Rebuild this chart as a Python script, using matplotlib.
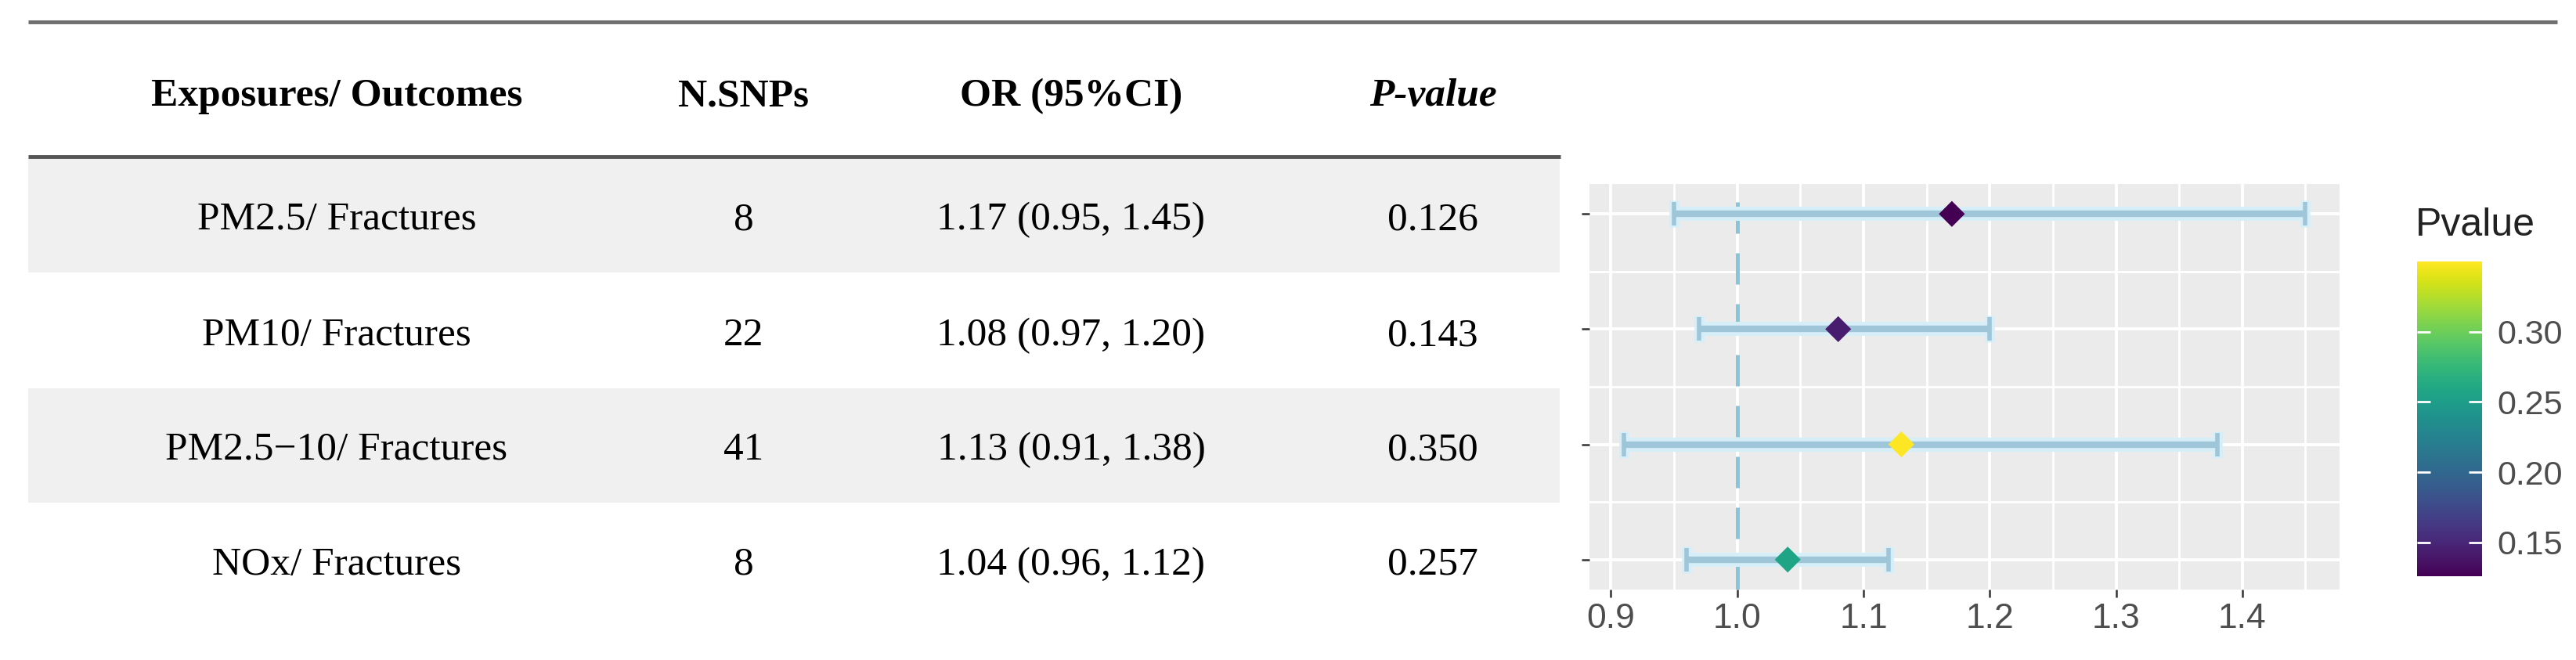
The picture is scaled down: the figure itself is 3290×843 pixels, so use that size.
import matplotlib

matplotlib.use("Agg")
import matplotlib.pyplot as plt
import numpy as np
from matplotlib.cm import ScalarMappable
from matplotlib.colors import Normalize

# table / forest data
exposures = ["PM2.5/ Fractures", "PM10/ Fractures", "PM2.5\u221210/ Fractures", "NOx/ Fractures"]
n_snps = [8, 22, 41, 8]
or_vals = [1.17, 1.08, 1.13, 1.04]
ci_low = [0.95, 0.97, 0.91, 0.96]
ci_high = [1.45, 1.20, 1.38, 1.12]
pvals = [0.126, 0.143, 0.350, 0.257]
headers = ["Exposures/ Outcomes", "N.SNPs", "OR (95%CI)", "P-value"]
x_ticks = [0.9, 1.0, 1.1, 1.2, 1.3, 1.4]
cbar_ticks = [0.15, 0.20, 0.25, 0.30]

W, H, DPI = 3291, 843, 100
SERIF = ["Liberation Serif", "DejaVu Serif"]
SANS = "Liberation Sans"


def px_box(x0, y0, x1, y1):
    return [x0 / W, 1 - y1 / H, (x1 - x0) / W, (y1 - y0) / H]


fig = plt.figure(figsize=(W / DPI, H / DPI), dpi=DPI)

# ---- table part, drawn in pixel coordinates ----
tab = fig.add_axes([0, 0, 1, 1])
tab.set_xlim(0, W)
tab.set_ylim(H, 0)
tab.axis("off")

col_x = [430, 950, 1368, 1830]
row_y = [275, 423, 569, 716]
header_y = 117
base_off = 18  # baseline offset from visual centre

for i, y in enumerate(row_y):
    if i % 2 == 0:
        tab.fill_between([36, 1992], y - 73, y + 73, color="#f0f0f0", lw=0, zorder=0)

tab.hlines(28, 36, 3266, color="#6e6e6e", lw=3.5, zorder=2)
tab.hlines(200, 36, 1993, color="#555555", lw=3.5, zorder=2)

for j, h in enumerate(headers):
    style = "italic" if h == "P-value" else "normal"
    tab.text(col_x[j], header_y + base_off, h, ha="center", va="baseline",
             fontsize=37, fontweight="bold", fontstyle=style, family=SERIF)

for i, y in enumerate(row_y):
    cells = [exposures[i], str(n_snps[i]),
             f"{or_vals[i]:.2f} ({ci_low[i]:.2f}, {ci_high[i]:.2f})", f"{pvals[i]:.3f}"]
    for j, c in enumerate(cells):
        tab.text(col_x[j], y + base_off, c, ha="center", va="baseline",
                 fontsize=37, family=SERIF)

# ---- forest plot ----
ax = fig.add_axes(px_box(2030, 235, 2988, 753))
ax.set_facecolor("#ebebeb")
rows = np.arange(len(or_vals), 0, -1)
or_arr = np.array(or_vals)
lo_arr = np.array(ci_low)
hi_arr = np.array(ci_high)

xlo, xhi = lo_arr.min(), hi_arr.max()
xpad = 0.05 * (xhi - xlo)
ax.set_xlim(xlo - xpad, xhi + xpad)
ylo, yhi = rows.min() - 0.1, rows.max() + 0.1
ypad = 0.05 * (yhi - ylo)
ax.set_ylim(ylo - ypad, yhi + ypad)

ax.set_xticks(x_ticks)
ax.set_xticklabels([f"{t:.1f}" for t in x_ticks])
ax.set_xticks(np.array(x_ticks) + 0.05, minor=True)
ax.set_yticks(rows)
ax.set_yticklabels([""] * len(rows))
ax.set_yticks(rows[:-1] - 0.5, minor=True)
ax.grid(which="major", color="white", lw=2.8)
ax.grid(which="minor", color="white", lw=2.0)
ax.set_axisbelow(True)
for s in ax.spines.values():
    s.set_visible(False)
ax.tick_params(axis="both", which="major", length=7, width=1.8, color="#333333",
               labelsize=32, labelcolor="#4d4d4d", pad=5, labelfontfamily=SANS)
ax.tick_params(which="minor", length=0)

ax.axvline(1.0, color="#86c5da", lw=3.6, linestyle=(0, (8, 5)), zorder=2)

xerr = [or_arr - lo_arr, hi_arr - or_arr]
ax.errorbar(or_arr, rows, xerr=xerr, fmt="none", ecolor="#d6eef7", elinewidth=13,
            capsize=12, capthick=9, zorder=3)
ax.errorbar(or_arr, rows, xerr=xerr, fmt="none", ecolor="#9ec6d8", elinewidth=6,
            capsize=11, capthick=4, zorder=4)

norm = Normalize(min(pvals), max(pvals))
ax.scatter(or_arr, rows, c=pvals, cmap="viridis", norm=norm, marker="D", s=285,
           linewidths=0, zorder=5)

# ---- colour bar legend ----
cax = fig.add_axes(px_box(3087, 334, 3170, 736))
cb = fig.colorbar(ScalarMappable(norm=norm, cmap="viridis"), cax=cax)
cb.outline.set_visible(False)
cb.set_ticks(cbar_ticks)
cb.set_ticklabels([f"{t:.2f}" for t in cbar_ticks])
cax.tick_params(length=0, pad=14, labelsize=31, labelcolor="#4d4d4d",
                labelfontfamily=SANS)
tr = cax.get_yaxis_transform()
cax.hlines(cbar_ticks, 0, 0.2, transform=tr, color="white", lw=2)
cax.hlines(cbar_ticks, 0.8, 1.0, transform=tr, color="white", lw=2)

tab.text(3085, 288, "Pvalue", ha="left", va="center", fontsize=36,
         color="#222222", family=SANS)

fig.savefig("out.png", dpi=DPI)
